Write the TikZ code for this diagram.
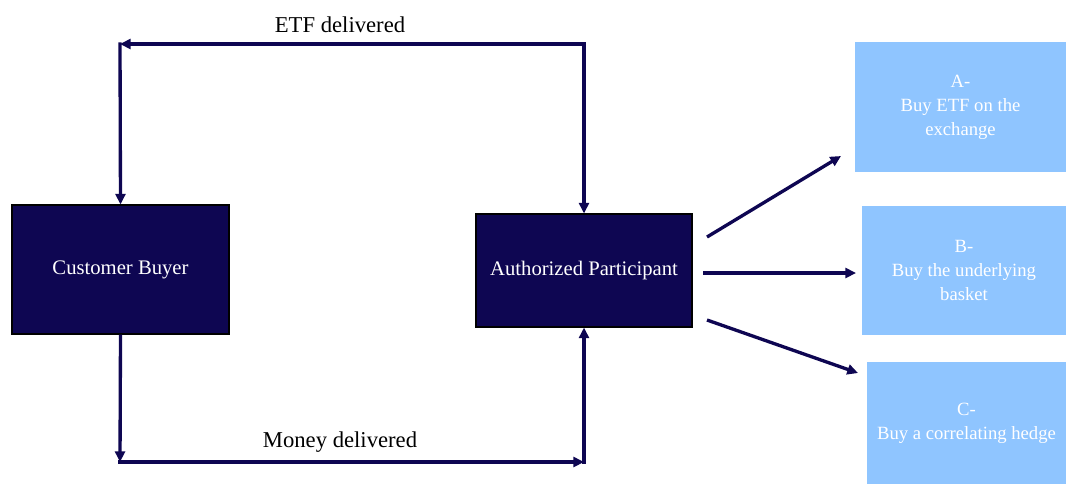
\documentclass[tikz,border=0pt]{standalone}
\usepackage{fontspec}
\setmainfont{Liberation Serif}
\usetikzlibrary{arrows.meta}
\definecolor{navy}{RGB}{14,6,82}
\definecolor{lblue}{RGB}{143,197,255}
\tikzset{
  darkbox/.style={draw=black, line width=0.8pt, fill=navy, text=white, font=\fontsize{15.5}{18}\selectfont, inner sep=0pt},
  lightbox/.style={fill=lblue, text=white, font=\fontsize{14}{18}\selectfont, align=center, inner sep=0pt},
  arr/.style={draw=navy, line width=2.5pt, -{Triangle[length=8pt,width=7.5pt]}},
  lbl/.style={font=\fontsize{17}{20}\selectfont, text=black}
}
\begin{document}
\begin{tikzpicture}[x=0.75pt,y=-0.75pt]
\useasboundingbox (0,0) rectangle (1066,483);
% main boxes
\node[darkbox, minimum width=162.75pt, minimum height=96.75pt] (CB) at (120.5,269.5) {Customer Buyer};
\node[darkbox, minimum width=162pt, minimum height=84.75pt] (AP) at (584,270.5) {Authorized Participant};
% option boxes
\node[lightbox, minimum width=158.25pt, minimum height=97.5pt] (A) at (960.5,107) {A-\\Buy ETF on the\\exchange};
\node[lightbox, minimum width=153pt, minimum height=96.75pt] (B) at (964,270.5) {B-\\Buy the underlying\\basket};
\node[lightbox, minimum width=149.25pt, minimum height=91.5pt] (C) at (966.5,423) {C-\\Buy a correlating hedge};
% corner coordinates
\coordinate (tl) at (120,44);
\coordinate (tr) at (584,44);
\coordinate (bl) at (120,462);
\coordinate (br) at (584,462);
% ETF delivered
\draw[arr] (tr) -- (tl);
\draw[arr, shorten <=-1.2pt] (tl) -- (CB.north);
\draw[arr, shorten <=-1.2pt] (tr) -- (AP.north);
\node[lbl] (etf) at (340,25) {ETF delivered};
% Money delivered
\draw[arr] (CB.south) -- (bl);
\draw[arr, shorten <=-1.2pt] (bl) -- (br);
\draw[arr, shorten <=-1.2pt] (br) -- (AP.south);
\node[lbl] (money) at (340,442) {Money delivered};
% options arrows
\coordinate (sa) at (707,237);
\coordinate (ea) at (841,156);
\coordinate (sb) at (703,273);
\coordinate (eb) at (856,273);
\coordinate (sc) at (707,320);
\coordinate (ec) at (858,373);
\draw[arr] (sa) -- (ea);
\draw[arr] (sb) -- (eb);
\draw[arr] (sc) -- (ec);
\end{tikzpicture}
\end{document}
